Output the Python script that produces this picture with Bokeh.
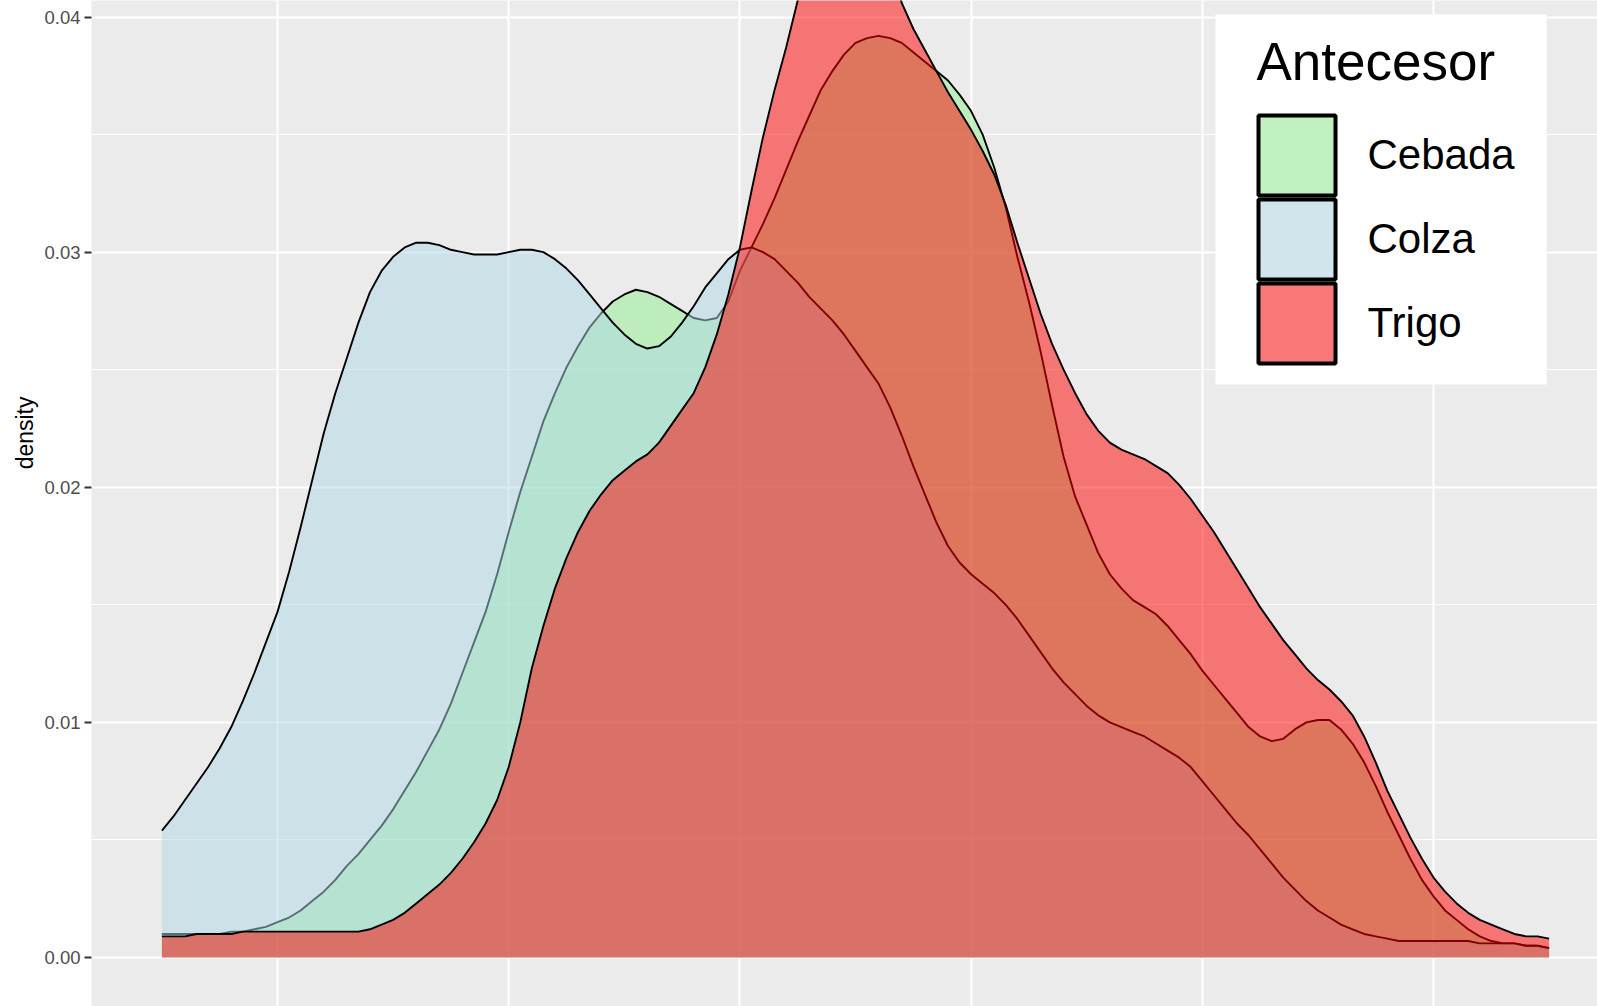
from bokeh.plotting import figure
from bokeh.models import (Range1d, FixedTicker, NumeralTickFormatter, BoxAnnotation,
                          Label, Grid, ColumnDataSource, Title)
from bokeh.embed import file_html
from bokeh.resources import INLINE

# ---------------- data (every 0.5 units from 15 to 75) ----------------
x_vals = [15 + 0.5 * i for i in range(121)]

cebada = [0.0010, 0.0010, 0.0010, 0.0010, 0.0010, 0.0010, 0.0011, 0.0011, 0.0012, 0.0013,
          0.0015, 0.0017, 0.0020, 0.0024, 0.0028, 0.0033, 0.0039, 0.0044, 0.0050, 0.0056,
          0.0063, 0.0071, 0.0079, 0.0088, 0.0097, 0.0108, 0.0121, 0.0134, 0.0147, 0.0163,
          0.0181, 0.0198, 0.0213, 0.0228, 0.0240, 0.0251, 0.0260, 0.0268, 0.0274, 0.0279,
          0.0282, 0.0284, 0.0283, 0.0281, 0.0278, 0.0275, 0.0272, 0.0271, 0.0272, 0.0279,
          0.0292, 0.0302, 0.0312, 0.0323, 0.0335, 0.0347, 0.0358, 0.0369, 0.0377, 0.0384,
          0.0389, 0.0391, 0.0392, 0.0391, 0.0389, 0.0385, 0.0381, 0.0377, 0.0373, 0.0367,
          0.0360, 0.0350, 0.0336, 0.0319, 0.0298, 0.0279, 0.0258, 0.0235, 0.0213, 0.0196,
          0.0184, 0.0172, 0.0163, 0.0157, 0.0152, 0.0149, 0.0146, 0.0141, 0.0135, 0.0129,
          0.0122, 0.0116, 0.0110, 0.0104, 0.0098, 0.0094, 0.0092, 0.0093, 0.0097, 0.0100,
          0.0101, 0.0101, 0.0097, 0.0091, 0.0083, 0.0073, 0.0062, 0.0052, 0.0042, 0.0033,
          0.0026, 0.0020, 0.0016, 0.0012, 0.0009, 0.0007, 0.0006, 0.0006, 0.0005, 0.0005,
          0.0004]

colza = [0.0054, 0.0060, 0.0067, 0.0074, 0.0081, 0.0089, 0.0098, 0.0109, 0.0121, 0.0134,
         0.0147, 0.0164, 0.0183, 0.0203, 0.0223, 0.0240, 0.0255, 0.0270, 0.0283, 0.0292,
         0.0298, 0.0302, 0.0304, 0.0304, 0.0303, 0.0301, 0.0300, 0.0299, 0.0299, 0.0299,
         0.0300, 0.0301, 0.0301, 0.0300, 0.0297, 0.0293, 0.0288, 0.0282, 0.0276, 0.0270,
         0.0265, 0.0261, 0.0259, 0.0260, 0.0264, 0.0270, 0.0277, 0.0285, 0.0291, 0.0297,
         0.0301, 0.0302, 0.0300, 0.0297, 0.0292, 0.0287, 0.0281, 0.0276, 0.0271, 0.0265,
         0.0258, 0.0251, 0.0244, 0.0234, 0.0222, 0.0209, 0.0197, 0.0185, 0.0175, 0.0168,
         0.0163, 0.0159, 0.0155, 0.0150, 0.0144, 0.0137, 0.0130, 0.0123, 0.0117, 0.0112,
         0.0107, 0.0103, 0.0100, 0.0098, 0.0096, 0.0094, 0.0091, 0.0088, 0.0085, 0.0081,
         0.0075, 0.0069, 0.0063, 0.0057, 0.0052, 0.0046, 0.0040, 0.0034, 0.0029, 0.0024,
         0.0020, 0.0017, 0.0014, 0.0012, 0.0010, 0.0009, 0.0008, 0.0007, 0.0007, 0.0007,
         0.0007, 0.0007, 0.0007, 0.0007, 0.0006, 0.0006, 0.0006, 0.0006, 0.0005, 0.0005,
         0.0004]

trigo = [0.0009, 0.0009, 0.0009, 0.0010, 0.0010, 0.0010, 0.0010, 0.0011, 0.0011, 0.0011,
         0.0011, 0.0011, 0.0011, 0.0011, 0.0011, 0.0011, 0.0011, 0.0011, 0.0012, 0.0014,
         0.0016, 0.0019, 0.0023, 0.0027, 0.0031, 0.0036, 0.0042, 0.0049, 0.0057, 0.0067,
         0.0081, 0.0100, 0.0123, 0.0141, 0.0157, 0.0170, 0.0181, 0.0190, 0.0197, 0.0203,
         0.0207, 0.0211, 0.0214, 0.0219, 0.0226, 0.0233, 0.0240, 0.0251, 0.0265, 0.0282,
         0.0302, 0.0326, 0.0349, 0.0369, 0.0387, 0.0407, 0.0425, 0.0437, 0.0445, 0.0449,
         0.0450, 0.0446, 0.0437, 0.0423, 0.0406, 0.0395, 0.0386, 0.0377, 0.0368, 0.0360,
         0.0352, 0.0343, 0.0333, 0.0320, 0.0304, 0.0289, 0.0274, 0.0261, 0.0250, 0.0240,
         0.0231, 0.0224, 0.0219, 0.0216, 0.0214, 0.0212, 0.0209, 0.0206, 0.0201, 0.0195,
         0.0188, 0.0181, 0.0173, 0.0165, 0.0157, 0.0149, 0.0142, 0.0135, 0.0129, 0.0123,
         0.0118, 0.0114, 0.0109, 0.0103, 0.0094, 0.0083, 0.0071, 0.0061, 0.0051, 0.0042,
         0.0034, 0.0028, 0.0023, 0.0019, 0.0016, 0.0014, 0.0012, 0.0010, 0.0009, 0.0009,
         0.0008]

series_names = ["Cebada", "Colza", "Trigo"]
series_values = [cebada, colza, trigo]

y_ticks = [0.00, 0.01, 0.02, 0.03, 0.04]
y_minor_ticks = [0.005, 0.015, 0.025, 0.035]
x_grid_ticks = [20, 30, 40, 50, 60, 70]
legend_title = "Antecesor"
y_title = "density"

# ---------------- styles ----------------
fill_colors = ["lightgreen", "lightblue", "red"]
fill_alpha = 0.5
key_colors = ["#C1F0C1", "#D0E5EC", "#F97979"]
FONT = "Liberation Sans"

W, H = 1597, 1006
LEFT = 91

p = figure(width=W, height=H, output_backend="svg", toolbar_location=None,
           x_range=Range1d(11.955, 77.093), y_range=Range1d(-0.002084, 0.040702),
           x_axis_location=None, min_border_left=LEFT, min_border_right=0,
           min_border_top=0, min_border_bottom=0)
p.background_fill_color = "#EBEBEB"
p.border_fill_color = "white"
p.outline_line_color = None

# y axis
yax = p.yaxis[0]
yax.ticker = FixedTicker(ticks=y_ticks, minor_ticks=y_minor_ticks)
yax.formatter = NumeralTickFormatter(format="0.00")
yax.axis_line_color = None
yax.major_tick_in = 0
yax.major_tick_out = 7
yax.major_tick_line_color = "#333333"
yax.major_tick_line_width = 2
yax.minor_tick_line_color = None
yax.major_label_text_font = FONT
yax.major_label_text_font_size = "18.5px"
yax.major_label_text_color = "#4D4D4D"
yax.major_label_standoff = 4

# y title: ggplot centres it on the whole (cropped) panel, which sits higher than this frame
p.add_layout(Title(text=y_title, align="right", offset=396, standoff=7,
                   text_font=FONT, text_font_size="23px", text_font_style="normal",
                   text_color="black"), "left")

# grids
p.ygrid.ticker = FixedTicker(ticks=y_ticks, minor_ticks=y_minor_ticks)
p.ygrid.grid_line_color = "white"
p.ygrid.grid_line_width = 2.2
p.ygrid.minor_grid_line_color = "white"
p.ygrid.minor_grid_line_width = 1.1
xgrid = Grid(dimension=0, ticker=FixedTicker(ticks=x_grid_ticks),
             grid_line_color="white", grid_line_width=2.0)
p.add_layout(xgrid)

# density areas (group order: Cebada, Colza, Trigo)
for name, vals, col in zip(series_names, series_values, fill_colors):
    src = ColumnDataSource(dict(x=x_vals, y=vals, base=[0.0] * len(vals)))
    p.varea(x="x", y1="base", y2="y", source=src, fill_color=col, fill_alpha=fill_alpha)
    p.line(x="x", y="y", source=src, line_color="black", line_width=1.9,
           line_join="round")

# ---------------- legend (drawn manually) ----------------
def sx(xp):  # page x -> screen x (frame origin)
    return xp - LEFT

def sy(yp):  # page y -> screen y (up from frame bottom)
    return H - yp

box_l, box_r, box_t, box_b = 1215, 1546, 14, 384
p.add_layout(BoxAnnotation(left=sx(box_l), right=sx(box_r), top=sy(box_t), bottom=sy(box_b),
                           left_units="screen", right_units="screen",
                           top_units="screen", bottom_units="screen",
                           fill_color="white", fill_alpha=1.0, line_color=None))
p.add_layout(Label(x=sx(1256), y=sy(61), x_units="screen", y_units="screen",
                   text=legend_title, text_font=FONT, text_font_size="53px",
                   text_color="black", text_baseline="alphabetic"))
key_l, key_r, key_top, pitch, key_h = 1258, 1335, 115, 84, 80
for i, (name, kc) in enumerate(zip(series_names, key_colors)):
    t = key_top + pitch * i
    p.add_layout(BoxAnnotation(left=sx(key_l), right=sx(key_r), top=sy(t), bottom=sy(t + key_h),
                               left_units="screen", right_units="screen",
                               top_units="screen", bottom_units="screen",
                               fill_color=kc, fill_alpha=1.0,
                               line_color="black", line_width=4, line_alpha=1.0))
    p.add_layout(Label(x=sx(1367), y=sy(154 + pitch * i), x_units="screen", y_units="screen",
                       text=name, text_font=FONT, text_font_size="42px",
                       text_color="black", text_baseline="alphabetic"))

open("out.html", "w").write(file_html(p, INLINE))
